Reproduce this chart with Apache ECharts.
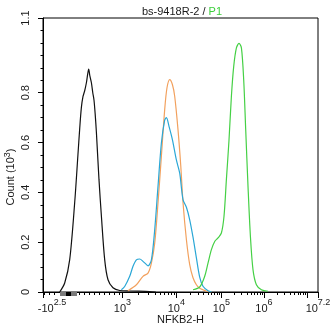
<!DOCTYPE html>
<html>
<head>
<meta charset="utf-8">
<script src="https://cdn.jsdelivr.net/npm/echarts@6/dist/echarts.min.js"></script>
<style>
html,body{margin:0;padding:0;background:#fff}
#chart{width:332px;height:335px}
</style>
</head>
<body>
<div id="chart"></div>
<script>
// Histogram curves: x is the display channel (0–1000 logicle scale), y is count in thousands.
const blackChannel = [60.7, 78.9, 97.1, 115.3, 127, 133.4, 139.5, 145.5, 151.6, 157.8, 162.5, 166.2, 170, 176, 181, 185.5, 190, 194.2, 203.6, 212.4, 224.3, 236.4, 254.5, 278.9, 315, 388, 410];
const blackCount   = [0, 0.036, 0.13, 0.36, 0.55, 0.655, 0.74, 0.785, 0.808, 0.84, 0.875, 0.895, 0.87, 0.84, 0.80, 0.77, 0.71, 0.64, 0.451, 0.304, 0.13, 0.049, 0.017, 0.006, 0.004, 0.002, 0];

const orangeChannel = [309, 339.6, 363.6, 381.8, 394.2, 406.2, 418.2, 430.5, 442.5, 450.9, 460.7, 470.5, 478.9, 490.9, 500.7, 509.8, 521.5, 533.5, 545.5, 557.8, 569.8, 581.8, 595.3, 613];
const orangeCount   = [0.005, 0.029, 0.063, 0.076, 0.116, 0.196, 0.357, 0.545, 0.732, 0.82, 0.853, 0.833, 0.786, 0.652, 0.511, 0.35, 0.21, 0.11, 0.057, 0.029, 0.015, 0.009, 0.003, 0];

const blueChannel = [285, 297, 315.3, 327.3, 339.6, 351.6, 363.6, 376, 381.8, 394.2, 406.2, 418.2, 430.5, 442.5, 448.7, 458.2, 470.5, 485, 497.1, 509.1, 521.5, 533.5, 545.5, 557.8, 569.8, 581.8, 600, 613];
const blueCount   = [0.009, 0.022, 0.063, 0.103, 0.129, 0.1325, 0.123, 0.11, 0.105, 0.129, 0.25, 0.424, 0.598, 0.69, 0.70, 0.665, 0.612, 0.53, 0.477, 0.371, 0.34, 0.29, 0.22, 0.137, 0.06, 0.023, 0.005, 0];

const greenChannel = [545.5, 569.8, 588, 600, 612.4, 624.4, 636.4, 648.7, 658.2, 666.9, 676.4, 685.1, 693.5, 703.3, 712.7, 721.5, 729.8, 737.1, 745.5, 754.2, 763.6, 776, 794.2, 818.2];
const greenCount   = [0.009, 0.02, 0.063, 0.116, 0.17, 0.203, 0.217, 0.237, 0.304, 0.452, 0.61, 0.786, 0.906, 0.98, 0.998, 0.98, 0.852, 0.652, 0.424, 0.224, 0.09, 0.029, 0.009, 0.003];

// Logicle axis: decade exponents and the channel where each decade sits.
const decadeExp     = [3, 4, 5, 6, 7, 7.2];
const decadeChannel = [288.7, 485, 648.7, 803.6, 961.5, 1000];

// Tick labels along the intensity axis (exponents of ten).
const xLabelExp   = ['2.5', '3', '4', '5', '6', '7.2'];
const xLabelSign  = ['-', '', '', '', '', ''];
const yLabelValues = [0, 0.2, 0.4, 0.6, 0.8, 1.1];

const FONT = '"Liberation Sans", Arial, sans-serif';
const TEXT = '#1a1a1a';

function channelOfDecade(d) {
  for (let i = 0; i < decadeExp.length - 1; i++) {
    if (d >= decadeExp[i] && d <= decadeExp[i + 1]) {
      const t = (d - decadeExp[i]) / (decadeExp[i + 1] - decadeExp[i]);
      return decadeChannel[i] + t * (decadeChannel[i + 1] - decadeChannel[i]);
    }
  }
  return null;
}

// Label positions: the negative end of the scale, then each labelled decade.
const xLabelPos = [0, channelOfDecade(3), channelOfDecade(4), channelOfDecade(5), channelOfDecade(6), 1000];
const xMajorTicks = [0, ...decadeExp.slice(0, 5).map(channelOfDecade), 1000];

// Minor log ticks 2..9 × 10^n inside each decade.
const xMinorTicks = [];
for (let n = 3; n <= 6; n++) {
  for (let k = 2; k <= 9; k++) xMinorTicks.push(channelOfDecade(n + Math.log10(k)));
}
// Evenly spaced ticks in the linear part of the scale below 10^3.
for (let c = 6; c < 286; c += 18.2) {
  if (c < 58 || c > 126) xMinorTicks.push(c);
}
// Dense ticks around zero form a solid band; the very centre is darker.
const zeroBandTicks = [];
for (let c = 61; c <= 122; c += 1) zeroBandTicks.push(c);
const zeroCoreTicks = [];
for (let c = 85; c <= 99; c += 1) zeroCoreTicks.push(c);

const yMinorTicks = [];
for (let i = 0; i <= 22; i++) yMinorTicks.push(+(i * 0.05).toFixed(2));

function pairs(xs, ys) { return xs.map((x, i) => [x, ys[i]]); }

function xAxisBase(extra) {
  return Object.assign({
    type: 'value', min: 0, max: 1000, position: 'bottom',
    splitLine: { show: false },
    axisLine: { show: false },
    axisLabel: { show: false }
  }, extra);
}

const chart = echarts.init(document.getElementById('chart'), null, { renderer: 'canvas' });

const option = {
  animation: false,
  backgroundColor: '#fff',
  title: {
    text: '{a|bs-9418R-2 / }{g|P1}',
    left: 177, top: 1, textAlign: 'center',
    textStyle: {
      fontWeight: 'normal',
      rich: {
        a: { fontFamily: FONT, fontSize: 11, fontWeight: 'normal', color: TEXT },
        g: { fontFamily: FONT, fontSize: 11, fontWeight: 'normal', color: '#3ccf3c' }
      }
    }
  },
  grid: {
    left: 43, top: 18, width: 275, height: 274,
    containLabel: false, outerBoundsMode: 'none',
    show: true, borderColor: '#000', borderWidth: 1, backgroundColor: 'transparent'
  },
  xAxis: [
    xAxisBase({
      axisLine: { show: true, onZero: false, lineStyle: { color: '#000', width: 1 } },
      axisTick: { show: true, customValues: xMajorTicks, length: 6, lineStyle: { color: '#000' } },
      axisLabel: {
        show: true, customValues: xLabelPos, margin: 6, color: TEXT,
        showMinLabel: true, showMaxLabel: true, hideOverlap: false,
        formatter: function (v) {
          let idx = 0, best = Infinity;
          xLabelPos.forEach((p, i) => { if (Math.abs(p - v) < best) { best = Math.abs(p - v); idx = i; } });
          const base = idx === 0 ? 'bn' : 'b';
          return '{' + base + '|' + xLabelSign[idx] + '10}{s|' + xLabelExp[idx] + '}';
        },
        rich: {
          b: { fontFamily: FONT, fontSize: 11, color: TEXT, padding: [5, 0, 0, 0] },
          bn: { fontFamily: FONT, fontSize: 11, color: TEXT, padding: [5, 0, 0, 18] },
          s: { fontFamily: FONT, fontSize: 9, color: TEXT, padding: [0, 0, 6, 0] }
        }
      },
      name: 'NFKB2-H', nameLocation: 'middle', nameGap: 22, nameMoveOverlap: false,
      nameTextStyle: { fontFamily: FONT, fontSize: 11, color: TEXT }
    }),
    xAxisBase({ axisTick: { show: true, customValues: xMinorTicks, length: 3, lineStyle: { color: '#000' } } }),
    xAxisBase({ axisTick: { show: true, customValues: zeroBandTicks, length: 4, lineStyle: { color: '#7a7a7a' } } }),
    xAxisBase({ axisTick: { show: true, customValues: zeroCoreTicks, length: 4, lineStyle: { color: '#000' } } })
  ],
  yAxis: [
    {
      type: 'value', min: 0, max: 1.1, position: 'left',
      splitLine: { show: false },
      axisLine: { show: true, onZero: false, lineStyle: { color: '#000' } },
      axisTick: { show: true, customValues: yLabelValues, length: 5, lineStyle: { color: '#000' } },
      axisLabel: {
        show: true, customValues: yLabelValues, rotate: 90, margin: 12,
        fontFamily: FONT, fontSize: 11, color: TEXT,
        showMinLabel: true, showMaxLabel: true, hideOverlap: false,
        formatter: function (v) { return String(+v.toFixed(2)); }
      },
      name: '{n|Count (10}{s|3}{n|)}', nameLocation: 'middle', nameRotate: 90, nameGap: 25,
      nameMoveOverlap: false,
      nameTextStyle: {
        padding: [0, 44, 0, 0],
        rich: {
          n: { fontFamily: FONT, fontSize: 11, color: TEXT },
          s: { fontFamily: FONT, fontSize: 9, color: TEXT, padding: [0, 0, 6, 0] }
        }
      }
    },
    {
      type: 'value', min: 0, max: 1.1, position: 'left',
      splitLine: { show: false }, axisLine: { show: false }, axisLabel: { show: false },
      axisTick: { show: true, customValues: yMinorTicks, length: 2.5, lineStyle: { color: '#000' } }
    }
  ],
  series: [
    { name: 'isotype', data: pairs(blackChannel, blackCount), color: '#111111' },
    { name: 'sample A', data: pairs(orangeChannel, orangeCount), color: '#f2a15e' },
    { name: 'sample B', data: pairs(blueChannel, blueCount), color: '#2aa7d6' },
    { name: 'P1', data: pairs(greenChannel, greenCount), color: '#45d045' }
  ].map(s => ({
    type: 'line', name: s.name, data: s.data,
    xAxisIndex: 0, yAxisIndex: 0,
    showSymbol: false, smooth: 0.3, clip: true,
    lineStyle: { color: s.color, width: 1.2 },
    itemStyle: { color: s.color }
  }))
};

chart.setOption(option);
</script>
</body>
</html>
